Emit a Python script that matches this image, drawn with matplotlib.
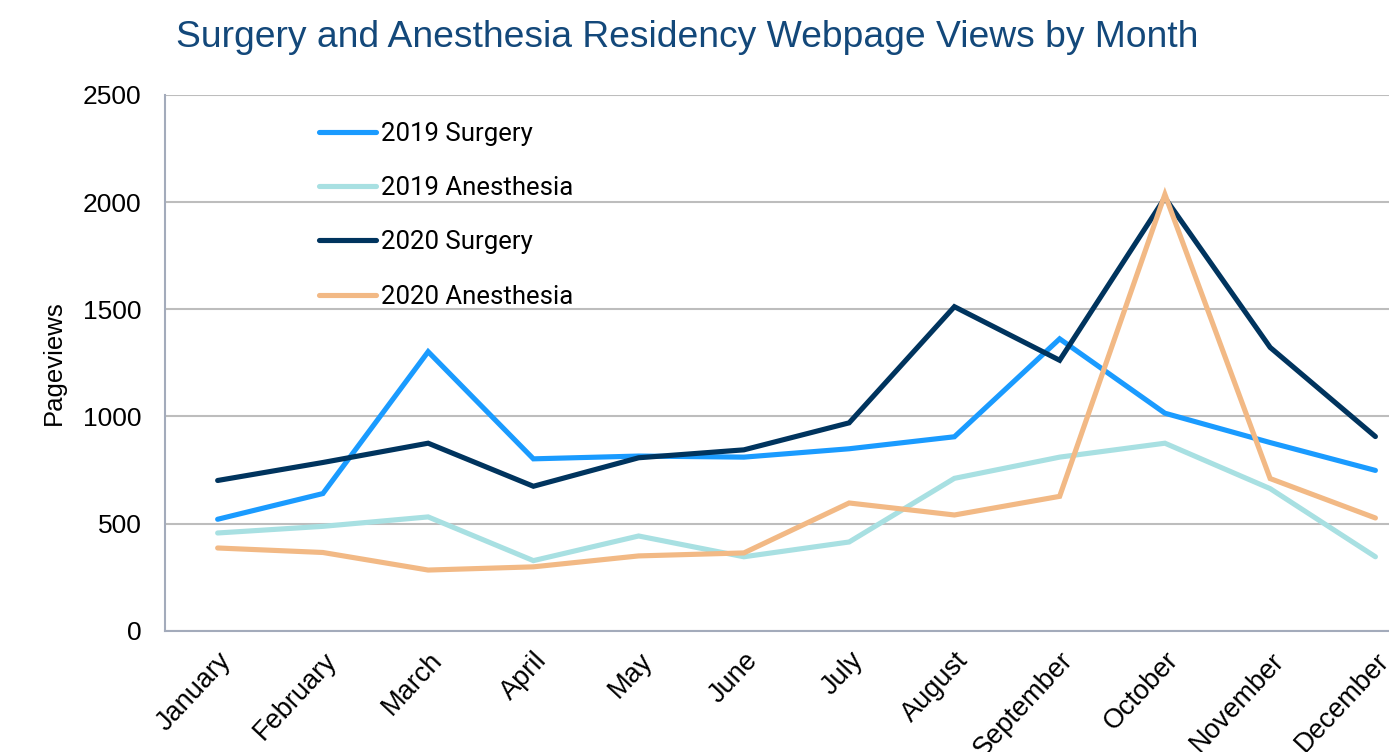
import matplotlib.pyplot as plt
import numpy as np

# Data for the chart
months = ['January', 'February', 'March', 'April', 'May', 'June', 'July',
          'August', 'September', 'October', 'November', 'December']
surgery_2019 = [520, 640, 1302, 802, 815, 810, 849, 905, 1362, 1015, 878, 748]
anesthesia_2019 = [456, 487, 531, 327, 442, 345, 414, 711, 810, 875, 663, 345]
surgery_2020 = [701, 785, 875, 674, 807, 844, 970, 1512, 1262, 2020, 1322, 906]
anesthesia_2020 = [386, 365, 283, 298, 349, 363, 596, 540, 627, 2036, 710, 526]

series = [
    ('2019 Surgery', surgery_2019, '#1a9bff'),
    ('2019 Anesthesia', anesthesia_2019, '#a8e0e2'),
    ('2020 Surgery', surgery_2020, '#00345e'),
    ('2020 Anesthesia', anesthesia_2020, '#f2b985'),
]

plt.rcParams['font.family'] = ['Liberation Sans', 'DejaVu Sans']

fig = plt.figure(figsize=(13.89, 7.52), dpi=100)
ax = fig.add_axes([0.1188, 0.1613, 0.9093, 0.7124])

x = np.arange(len(months))
for label, vals, color in series:
    ax.plot(x, vals, color=color, linewidth=3.7, label=label,
            solid_capstyle='round', solid_joinstyle='miter')

ax.set_xlim(-0.5, len(months) - 0.5)
ax.set_ylim(0, 2500)
ax.set_yticks(np.arange(0, 2501, 500))
ax.yaxis.grid(True, color='#bdbdbd', linewidth=1.5)
ax.set_axisbelow(True)

ax.set_xticks(x)
ax.set_xticklabels(months, rotation=47, ha='right', rotation_mode='anchor', fontsize=19.5)
ax.tick_params(axis='both', length=0)
ax.tick_params(axis='y', labelsize=19, pad=17)
ax.tick_params(axis='x', pad=12)

for s in ['top', 'right']:
    ax.spines[s].set_visible(False)
for s in ['left', 'bottom']:
    ax.spines[s].set_color('#a3abbb')
    ax.spines[s].set_linewidth(1.5)

ax.set_ylabel('Pageviews', fontsize=18.5, labelpad=12)

fig.suptitle('Surgery and Anesthesia Residency Webpage Views by Month',
             x=0.495, y=0.973, fontsize=26.8, color='#13487a')

ax.legend(loc='upper left', bbox_to_anchor=(0.23, 0.838), bbox_transform=fig.transFigure,
          frameon=False, labelspacing=1.18, handlelength=2.2,
          handletextpad=0.2, borderpad=0, borderaxespad=0,
          prop={'family': 'Roboto', 'size': 18.5})

fig.savefig('out.png', dpi=100)
